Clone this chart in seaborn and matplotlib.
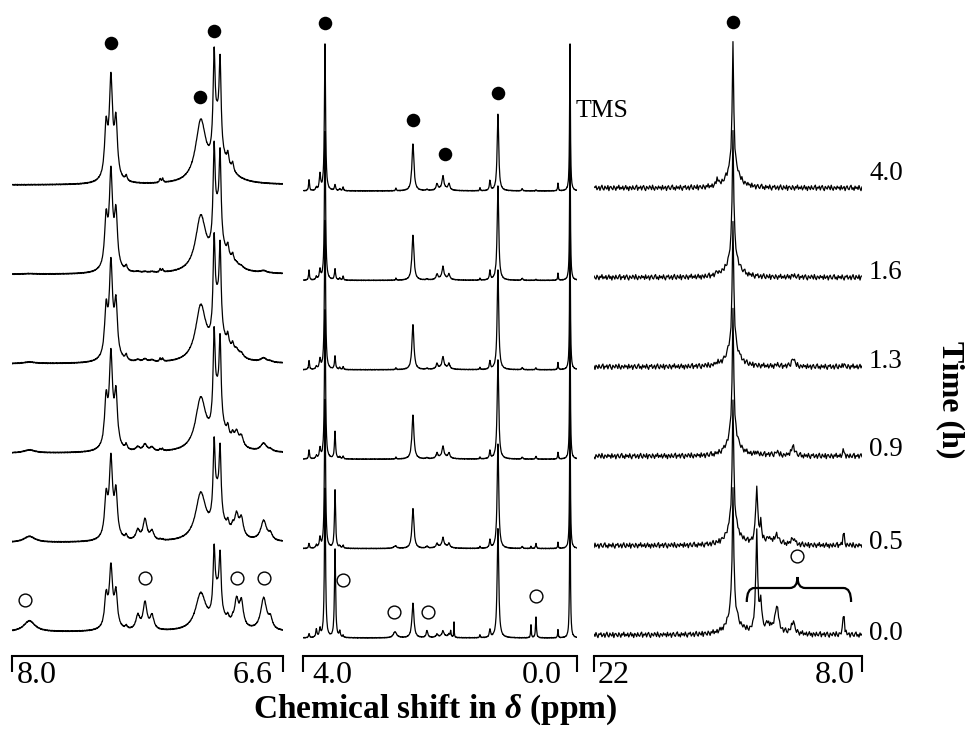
import numpy as np
import matplotlib
matplotlib.use('Agg')
import matplotlib.pyplot as plt
import seaborn as sns
from matplotlib.path import Path
from matplotlib.patches import PathPatch

# Spectra, bottom to top (reaction time in h)
TIMES = ['0.0', '0.5', '0.9', '1.3', '1.6', '4.0']

# Panel 1: aromatic region, 8.0 - 6.6 ppm
P1_LIMITS = (8.0, 6.6)
P1_LABELS = ['8.0', '6.6']
P1_SHIFT = [7.91, 7.514, 7.489, 7.463, 7.489, 7.41, 7.35, 7.313, 7.277, 7.235, 7.222,
            7.025, 6.956, 6.925, 6.94, 6.885, 6.86, 6.90, 6.84, 6.815, 6.70, 6.665]
P1_WIDTH = [0.035, 0.009, 0.009, 0.009, 0.025, 0.006, 0.012, 0.012, 0.012, 0.004, 0.004,
            0.032, 0.006, 0.006, 0.02, 0.006, 0.006, 0.06, 0.012, 0.012, 0.018, 0.012]
P1_HEIGHT = [[11, 6, 3, 1.5, 0.5, 0],
             [29, 37, 43, 44, 45, 47],
             [50, 64, 75, 77, 78, 81],
             [32, 41, 48, 49, 50, 52],
             [12, 16, 19, 19, 19, 20],
             [3, 4, 5, 5, 5, 5],
             [14, 10, 4, 2, 1, 0],
             [27, 21, 7, 3, 1, 0],
             [14, 9, 4, 2, 1, 0],
             [0, 1, 2, 3, 3, 4],
             [0, 1, 2, 3, 3, 4],
             [36, 46, 51, 54, 54, 60],
             [58, 69, 83, 86, 88, 90],
             [52, 62, 75, 77, 79, 81],
             [30, 35, 42, 43, 44, 45],
             [5, 7, 9, 10, 10, 11],
             [3, 5, 6, 7, 7, 8],
             [5, 8, 11, 12, 12, 13],
             [25, 20, 12, 5, 2, 0],
             [25, 18, 10, 4, 2, 0],
             [32, 20, 8, 4, 2, 0],
             [10, 6, 2, 1, 0, 0]]

# Panel 2: aliphatic region, 4.0 - 0.0 ppm
P2_LIMITS = (4.0, -0.1)
P2_LABELS = ['4.0', '0.0']
P2_SHIFT = [3.91, 3.80, 3.746, 3.671, 3.521, 3.45, 3.40, 2.624, 2.61, 2.355, 2.145,
            1.995, 1.906, 1.816, 1.9, 1.741, 1.79, 1.352, 1.203, 1.083, 0.72,
            0.589, 0.514, 0.185, 0.005]
P2_WIDTH = [0.008, 0.01, 0.012, 0.01, 0.01, 0.01, 0.008, 0.03, 0.006, 0.018, 0.015,
            0.015, 0.015, 0.015, 0.08, 0.004, 0.006, 0.006, 0.01, 0.014, 0.01,
            0.006, 0.008, 0.006, 0.007]
P2_HEIGHT = [[4, 5, 9, 9, 10, 11],
             [8, 3, 3, 3, 3, 3],
             [8, 10, 10, 10, 10, 16],
             [150, 150, 150, 150, 150, 148],
             [88, 58, 27, 13, 11, 6],
             [6, 2, 2, 2, 2, 2],
             [2, 3, 3, 3, 4, 4],
             [6, 2, 0, 0, 0, 0],
             [0, 1, 2, 2, 2, 3],
             [35, 40, 44, 45, 45, 47],
             [7, 2, 1, 1, 1, 1],
             [3, 4, 5, 5, 5, 6],
             [5, 8, 10, 10, 11, 12],
             [3, 4, 5, 5, 5, 6],
             [2, 3, 3, 3, 3, 3],
             [16, 0, 0, 0, 0, 0],
             [6, 0, 0, 0, 0, 0],
             [3, 2, 2, 2, 2, 3],
             [8, 8, 8, 8, 9, 10],
             [110, 105, 100, 100, 95, 77],
             [0, 2, 2, 2, 2, 2],
             [13, 2, 0, 0, 0, 0],
             [21, 5, 3, 2, 1, 1],
             [8, 6, 7, 7, 7, 8],
             [150, 150, 150, 150, 150, 148]]

# Panel 3: 22 - 8.0 ppm
P3_LIMITS = (22.0, 8.0)
P3_LABELS = ['22', '8.0']
P3_SHIFT = [14.74, 14.74, 15.55, 13.50, 13.29, 12.9, 12.45, 11.6, 8.96, 12.8]
P3_WIDTH = [0.045, 0.3, 0.05, 0.06, 0.05, 0.08, 0.09, 0.1, 0.04, 0.6]
P3_HEIGHT = [[120, 120, 120, 120, 120, 118],
             [26, 26, 26, 26, 26, 26],
             [0, 0, 0, 2, 4, 8],
             [98, 58, 3, 0, 0, 0],
             [30, 18, 0, 0, 0, 0],
             [5, 3, 0, 0, 0, 0],
             [26, 8, 3, 2, 0, 0],
             [12, 7, 10, 8, 2, 0],
             [25, 14, 7, 3, 0, 0],
             [6, 4, 1, 0, 0, 0]]

# baseline noise texture (hand estimated, reused along the trace)
NOISE = [0.3, -0.5, 0.8, -0.2, -0.9, 0.4, 0.1, 0.7, -0.6, -0.1, 0.5, -0.8, 0.2, 0.9,
         -0.3, -0.7, 0.6, 0.0, -0.4, 0.8, -0.9, 0.3, 0.5, -0.2, -0.6, 0.7, 0.1, -0.8,
         0.4, -0.1, 0.9, -0.5, 0.2, -0.3, 0.6, -0.7, 0.0, 0.8, -0.4, 0.3, -0.9, 0.5,
         0.1, -0.6, 0.7, -0.2, -0.5, 0.4, 0.9, -0.8, 0.2, -0.1, 0.6, -0.7, 0.3, 0.8,
         -0.3, -0.9, 0.5, 0.0, -0.4, 0.7, 0.2, -0.6, 0.9, -0.2, -0.8, 0.4, 0.1, -0.5,
         0.6, -0.1, 0.3, -0.7, 0.8, -0.4, 0.0, 0.5, -0.9, 0.2, 0.7, -0.3, -0.6, 0.4,
         0.9, -0.5, 0.1, -0.8, 0.6, -0.2]

# assignment marks: (ppm, height of mark above the baseline)
P1_FILLED = [(7.489, 142), (7.03, 88), (6.956, 154)]
P2_FILLED = [(3.671, 168), (2.36, 71), (1.876, 37), (1.083, 98)]
P3_FILLED = [(14.74, 166)]
P1_OPEN = [(7.933, 32), (7.313, 54), (6.838, 54), (6.698, 54)]
P2_OPEN = [(3.40, 58), (2.639, 26), (2.13, 26), (0.514, 42)]
P3_OPEN = [(11.37, 79)]

sns.set_theme(style='white')
plt.rcParams['font.family'] = ['Liberation Serif', 'DejaVu Serif']
plt.rcParams['text.color'] = 'black'
plt.rcParams['mathtext.fontset'] = 'custom'
plt.rcParams['mathtext.rm'] = 'Liberation Serif:bold'
plt.rcParams['mathtext.it'] = 'Liberation Serif:italic:bold'
plt.rcParams['mathtext.bf'] = 'Liberation Serif:bold'


def spectrum(grid, shifts, widths, heights, k):
    y = np.zeros_like(grid)
    for s, w, h in zip(shifts, widths, heights):
        y += h[k] / (1 + ((grid - s) / w) ** 2)
    return y


def baseline_noise(n, k, step):
    base = np.resize(np.roll(NOISE, 17 * k), -(-n // step))
    return np.repeat(base, step)[:n]


W, H = 969, 739
fig = plt.figure(figsize=(W / 100, H / 100), dpi=100)

STEP = 89.4
panels = [
    dict(px=(12, 283), lim=P1_LIMITS, lab=P1_LABELS, shift=P1_SHIFT, width=P1_WIDTH,
         height=P1_HEIGHT, npts=1400, step=2, amp=0.5, base=24,
         filled=P1_FILLED, open=P1_OPEN, labx=(0.018, 0.963)),
    dict(px=(303, 577), lim=P2_LIMITS, lab=P2_LABELS, shift=P2_SHIFT, width=P2_WIDTH,
         height=P2_HEIGHT, npts=2200, step=4, amp=0.35, base=18,
         filled=P2_FILLED, open=P2_OPEN, labx=(0.036, 0.945)),
    dict(px=(594, 862), lim=P3_LIMITS, lab=P3_LABELS, shift=P3_SHIFT, width=P3_WIDTH,
         height=P3_HEIGHT, npts=271, step=1, amp=3.0, base=21,
         filled=P3_FILLED, open=P3_OPEN, labx=(0.015, 0.974)),
]

axes = []
for p in panels:
    x0, x1 = p['px']
    ax = fig.add_axes([x0 / W, (H - 656) / H, (x1 - x0) / W, 656 / H])
    ax.set_facecolor('none')
    axes.append(ax)
    grid = np.linspace(p['lim'][0], p['lim'][1], p['npts'])
    offsets = [p['base'] + STEP * k for k in range(len(TIMES))]
    for k in range(len(TIMES)):
        y = spectrum(grid, p['shift'], p['width'], p['height'], k)
        y = y + p['amp'] * baseline_noise(len(grid), k, p['step']) + offsets[k]
        sns.lineplot(x=grid, y=y, ax=ax, color='black', linewidth=0.9,
                     estimator=None, sort=False)

    fx, fy = zip(*p['filled'])
    ax.scatter(fx, np.array(fy) + offsets[-1], s=95, color='black', linewidth=0, zorder=5)
    ox, oy = zip(*p['open'])
    ax.scatter(ox, np.array(oy) + offsets[0], s=85, facecolors='white',
               edgecolors='black', linewidth=1.0, zorder=5)

    ax.set_xlim(p['lim'])
    ax.set_ylim(0, 656)
    ax.set_yticks([])
    ax.set_xticks(list(p['lim']))
    ax.set_xticklabels(['', ''])
    ax.set_xlabel('')
    ax.set_ylabel('')
    sns.despine(ax=ax, left=True)
    ax.spines['bottom'].set_linewidth(1.5)
    ax.spines['bottom'].set_color('black')
    ax.tick_params(axis='x', bottom=True, direction='out', length=11.5, width=1.5,
                   color='black')
    ax.text(p['labx'][0], -0.029, p['lab'][0], transform=ax.transAxes,
            ha='left', va='center', fontsize=23, color='black')
    ax.text(p['labx'][1], -0.029, p['lab'][1], transform=ax.transAxes,
            ha='right', va='center', fontsize=23, color='black')
    p['offsets'] = offsets

# TMS reference label
ax2 = axes[1]
ax2.text(P2_SHIFT[-1] - 0.085, panels[1]['offsets'][-1] + 80, 'TMS',
         ha='left', va='center', fontsize=18.5, color='black', zorder=10)

# brace over the intermediate signals in panel 3
ax3 = axes[2]
b = panels[2]['offsets'][0]
xl, xm, xr, d = 14.02, P3_OPEN[0][0], 8.57, 0.4
y_end, y_bar, y_tip = b + 33, b + 47, b + 58
verts = [(xl, y_end), (xl, y_bar), (xl - d, y_bar), (xm + d, y_bar), (xm, y_bar), (xm, y_tip),
         (xm, y_bar), (xm - d, y_bar), (xr + d, y_bar), (xr, y_bar), (xr, y_end)]
codes = [Path.MOVETO, Path.CURVE3, Path.CURVE3, Path.LINETO, Path.CURVE3, Path.CURVE3,
         Path.CURVE3, Path.CURVE3, Path.LINETO, Path.CURVE3, Path.CURVE3]
ax3.add_patch(PathPatch(Path(verts, codes), facecolor='none', edgecolor='black',
                        linewidth=1.6, zorder=4))

# time labels at the right of the last panel
nudges = [2, 3, 7, 5, 5, 14]
for k, t in enumerate(TIMES):
    ax3.text((869 - 594) / (862 - 594), panels[2]['offsets'][k] + nudges[k], t,
             transform=ax3.get_yaxis_transform(), ha='left', va='center',
             fontsize=19.5, color='black')

fig.text(950 / W, 1 - 400 / H, 'Time (h)', rotation=270, ha='center', va='center',
         fontsize=23, fontweight='bold', color='black')
fig.text(435 / W, 1 - 710 / H, 'Chemical shift in $\\delta$ (ppm)', ha='center',
         va='center', fontsize=24, fontweight='bold', color='black')

fig.savefig('out.png', dpi=100)
